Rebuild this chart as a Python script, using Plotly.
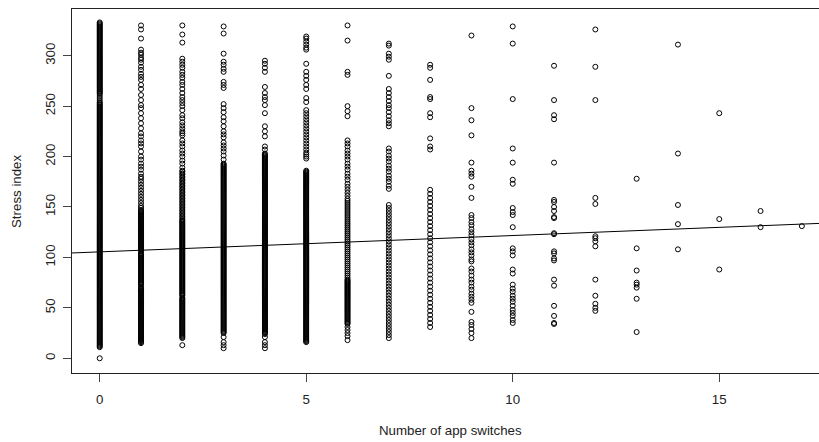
import plotly.graph_objects as go

# ---- data: stress index values observed at each number of app switches ----
switches = list(range(0, 18))

y_sw0 = [0,
         11, 12, 13, 14, 15, 16, 17, 18, 19, 20, 21, 22, 23, 24, 25, 26, 27, 28, 29, 30,
         31, 32, 33, 34, 35, 36, 37, 38, 39, 40, 41, 42, 43, 44, 45, 46, 47, 48, 49, 50,
         51, 52, 53, 54, 55, 56, 57, 58, 59, 60, 61, 62, 63, 64, 65, 66, 67, 68, 69, 70,
         71, 72, 73, 74, 75, 76, 77, 78, 79, 80, 81, 82, 83, 84, 85, 86, 87, 88, 89, 90,
         91, 92, 93, 94, 95, 96, 97, 98, 99, 100, 101, 102, 103, 104, 105, 106, 107, 108, 109, 110,
         111, 112, 113, 114, 115, 116, 117, 118, 119, 120, 121, 122, 123, 124, 125, 126, 127, 128, 129, 130,
         131, 132, 133, 134, 135, 136, 137, 138, 139, 140, 141, 142, 143, 144, 145, 146, 147, 148, 149, 150,
         151, 152, 153, 154, 155, 156, 157, 158, 159, 160, 161, 162, 163, 164, 165, 166, 167, 168, 169, 170,
         171, 172, 173, 174, 175, 176, 177, 178, 179, 180, 181, 182, 183, 184, 185, 186, 187, 188, 189, 190,
         191, 192, 193, 194, 195, 196, 197, 198, 199, 200, 201, 202, 203, 204, 205, 206, 207, 208, 209, 210,
         211, 212, 213, 214, 215, 216, 217, 218, 219, 220, 221, 222, 223, 224, 225, 226, 227, 228, 229, 230,
         231, 232, 233, 234, 235, 236, 237, 238, 239, 240, 241, 242, 243, 244, 245, 246, 247, 248, 249, 250,
         251, 252, 253, 254, 256, 258, 260, 262, 263, 264, 265, 266, 267, 268, 269, 270,
         271, 272, 273, 274, 275, 276, 277, 278, 279, 280, 281, 282, 283, 284, 285, 286, 287, 288, 289, 290,
         291, 292, 293, 294, 295, 296, 297, 298, 299, 300, 301, 302, 303, 304, 305, 306, 307, 308, 309, 310,
         311, 312, 313, 314, 315, 316, 317, 318, 319, 320, 321, 322, 323, 324, 325, 326, 327, 328, 329, 330,
         331, 332, 333]

y_sw1 = [15, 16, 17, 18, 19, 20, 21, 22, 23, 24, 25, 26, 27, 28, 29, 30, 31, 32, 33, 34, 35, 36, 37, 38,
         39, 40, 41, 42, 43, 44, 45, 46, 47, 48, 49, 50, 51, 52, 53, 54, 55, 56, 57, 58, 59, 60, 61, 62,
         63, 64, 65, 66, 67, 68, 69, 70, 71, 73, 74, 75, 76, 77, 78, 79, 80, 81, 82, 83, 84, 85, 86, 87,
         88, 89, 90, 91, 92, 93, 94, 95, 96, 97, 98, 99, 100, 101, 102, 103, 104, 106, 107, 108, 109, 110,
         111, 112, 113, 114, 115, 116, 117, 118, 119, 120, 121, 122, 123, 124, 125, 126, 127, 128, 129,
         130, 131, 132, 133, 134, 135, 136, 137, 138, 139, 140, 141, 142, 143, 144, 145, 146, 147,
         149, 151, 154, 157, 160, 163, 166, 169, 172, 175, 178, 180, 183, 187, 190, 193, 197, 200, 205, 210,
         213, 216, 220, 223, 228, 233, 238, 243, 248, 251, 256, 261, 267, 271, 276, 279, 282, 286, 289,
         293, 296, 298, 301, 303, 306, 317, 326, 330]

y_sw2 = [13, 20, 21, 22, 23, 24, 25, 26, 27, 28, 29, 30, 31, 32, 33, 34, 35, 36, 37, 38, 39, 40, 41, 42,
         43, 44, 45, 46, 47, 48, 49, 50, 51, 52, 53, 54, 55, 56, 57, 58, 59, 60, 62, 63, 64, 65, 66, 67,
         68, 69, 70, 71, 72, 73, 74, 75, 76, 77, 78, 79, 80, 81, 82, 83, 84, 85, 86, 87, 88, 89, 90, 91,
         92, 93, 94, 95, 96, 97, 98, 99, 100, 101, 102, 103, 104, 105, 106, 107, 108, 109, 110, 111, 112,
         113, 114, 115, 116, 117, 118, 119, 120, 121, 122, 123, 124, 125, 126, 127, 128, 129, 130, 131,
         132, 133, 134, 135, 136, 137, 138, 140, 141, 143, 144, 146, 147, 149, 150, 152, 153, 155, 156,
         158, 159, 161, 162, 164, 165, 167, 168, 170, 171, 173, 174, 176, 177, 179, 180, 182, 183, 185,
         186, 189, 193, 196, 200, 203, 206, 210, 213, 216, 221, 223, 225, 228, 231, 234, 238, 241, 246,
         250, 253, 256, 259, 263, 267, 271, 274, 278, 281, 284, 288, 291, 294, 297, 313, 321, 330]

y_sw3 = [10, 13, 16, 21, 25, 26, 27, 28, 29, 30, 31, 32, 33, 34, 35, 36, 37, 38, 39, 40, 41, 42, 43, 44,
         45, 46, 47, 48, 49, 50, 51, 52, 53, 54, 55, 56, 57, 58, 59, 60, 61, 62, 63, 64, 65, 66, 67, 68,
         69, 70, 71, 72, 73, 74, 75, 76, 77, 78, 79, 80, 81, 82, 83, 84, 85, 86, 87, 88, 89, 90, 91, 92,
         93, 94, 95, 96, 97, 98, 99, 100, 101, 102, 103, 104, 105, 106, 107, 108, 109, 110, 111, 112, 113,
         114, 115, 116, 117, 118, 119, 120, 121, 122, 123, 124, 125, 126, 127, 128, 129, 130, 131, 132,
         133, 134, 135, 136, 137, 138, 139, 140, 141, 142, 143, 144, 145, 146, 147, 148, 149, 150, 151,
         152, 153, 154, 155, 156, 157, 158, 159, 160, 161, 162, 163, 164, 165, 166, 167, 168, 169, 170,
         171, 172, 173, 174, 175, 176, 177, 178, 179, 180, 181, 182, 183, 184, 185, 186, 187, 188, 189,
         190, 191, 192, 193, 197, 201, 205, 208, 211, 214, 219, 222, 225, 230, 235, 239, 244, 248, 252,
         268, 271, 274, 284, 287, 291, 294, 302, 322, 329]

y_sw4 = [10, 13, 16, 21, 24, 25, 26, 27, 28, 29, 30, 31, 32, 33, 34, 35, 36, 37, 38, 39, 40, 41, 42, 43,
         44, 45, 46, 47, 48, 49, 50, 51, 52, 53, 54, 55, 56, 57, 58, 59, 60, 61, 62, 63, 64, 65, 66, 67,
         68, 69, 70, 71, 72, 73, 74, 75, 76, 77, 78, 79, 80, 81, 82, 83, 84, 85, 86, 87, 88, 89, 90, 91,
         92, 93, 94, 95, 96, 97, 98, 99, 100, 101, 102, 103, 104, 105, 106, 107, 108, 109, 110, 111, 112,
         113, 114, 115, 116, 117, 118, 119, 120, 121, 122, 123, 124, 125, 126, 127, 128, 129, 130, 131,
         132, 133, 134, 135, 136, 137, 138, 139, 140, 141, 142, 143, 144, 145, 146, 147, 148, 149, 150,
         151, 152, 153, 154, 155, 156, 157, 158, 159, 160, 161, 162, 163, 164, 165, 166, 167, 168, 169,
         170, 171, 172, 173, 174, 175, 176, 177, 178, 179, 180, 181, 182, 183, 184, 185, 186, 187, 188,
         189, 190, 191, 192, 193, 194, 195, 196, 197, 198, 199, 200, 201, 202, 203, 207, 210, 220, 225,
         230, 243, 251, 256, 259, 263, 269, 284, 288, 292, 295]

y_sw5 = [16, 17, 18, 19, 20, 21, 22, 23, 24, 25, 26, 27, 28, 29, 30, 31, 32, 33, 34, 35, 36, 37, 38, 39,
         40, 41, 42, 43, 44, 45, 46, 47, 48, 49, 50, 51, 52, 53, 54, 55, 56, 57, 58, 59, 60, 61, 62, 63,
         64, 65, 66, 67, 68, 69, 70, 71, 72, 73, 74, 75, 76, 77, 78, 79, 80, 81, 82, 83, 84, 85, 86, 87,
         88, 89, 90, 91, 92, 93, 94, 95, 96, 97, 98, 99, 100, 101, 102, 103, 104, 105, 106, 107, 108,
         109, 110, 111, 112, 113, 114, 115, 116, 117, 118, 119, 120, 121, 122, 123, 124, 125, 126, 127,
         128, 129, 130, 131, 132, 133, 134, 135, 136, 137, 138, 139, 140, 141, 142, 143, 144, 145, 146,
         147, 148, 149, 150, 151, 152, 153, 154, 155, 156, 157, 158, 159, 160, 161, 162, 163, 164, 165,
         166, 167, 168, 169, 170, 171, 172, 173, 174, 175, 176, 177, 178, 179, 180, 181, 182, 183, 184,
         185, 186, 198, 200, 202, 204, 207, 210, 213, 216, 219, 222, 225, 228, 231, 234, 237, 240, 243,
         246, 254, 258, 267, 271, 276, 280, 284, 292, 306, 308, 311, 314, 317, 319]

y_sw6 = [18, 22, 25, 28, 31, 34, 35, 36, 37, 38, 39, 40, 41, 42, 43, 44, 45, 46, 47, 48, 49, 50, 51, 52,
         53, 54, 55, 56, 57, 58, 59, 60, 61, 62, 63, 64, 65, 66, 67, 68, 69, 70, 71, 72, 73, 74, 75, 76,
         77, 78, 80, 82, 84, 86, 88, 90, 92, 94, 96, 98, 100, 102, 104, 106, 108, 110, 112, 114, 116, 118,
         120, 122, 124, 126, 128, 130, 132, 134, 136, 138, 140, 142, 144, 146, 148, 150, 152, 154, 156,
         158, 161, 164, 167, 170, 173, 177, 180, 183, 187, 190, 193, 197, 200, 203, 206, 210, 213, 216,
         240, 245, 250, 281, 284, 315, 330]

y_sw7 = [20, 23, 26, 29, 32, 35, 38, 41, 44, 47, 50, 53, 56, 59, 62, 65, 68, 71, 74, 77, 80, 83, 86, 89,
         92, 95, 98, 101, 104, 107, 110, 113, 116, 119, 122, 125, 128, 131, 134, 137, 140, 143, 146, 149,
         152, 168, 171, 175, 178, 181, 185, 188, 191, 195, 198, 201, 205, 208, 230, 233, 236, 240, 244,
         248, 251, 255, 259, 263, 267, 280, 296, 299, 302, 310, 312]

y_sw8 = [31, 35, 39, 43, 47, 51, 55, 59, 63, 67, 71, 75, 79, 83, 87, 91, 95, 99, 103, 107, 111, 115, 119,
         123, 127, 131, 135, 139, 143, 147, 151, 155, 159, 163, 167, 207, 210, 218, 239, 243, 257, 259,
         276, 288, 291]

y_sw9 = [20, 25, 29, 33, 36, 46, 55, 58, 61, 64, 68, 71, 75, 78, 82, 86, 89, 96, 98, 102, 105, 108, 112,
         115, 118, 122, 125, 128, 132, 135, 139, 142, 159, 170, 180, 183, 186, 194, 221, 236, 248, 320]

y_sw10 = [35, 38, 42, 45, 48, 52, 56, 59, 62, 66, 69, 73, 84, 88, 102, 106, 109, 130, 142, 145, 149, 173,
          177, 194, 208, 257, 312, 329]

y_sw11 = [34, 35, 42, 52, 72, 78, 97, 99, 104, 106, 123, 124, 139, 140, 146, 150, 155, 157, 194, 237,
          241, 256, 290]

y_sw12 = [47, 50, 54, 62, 78, 111, 116, 119, 121, 153, 159, 256, 289, 326]

y_sw13 = [26, 59, 70, 73, 75, 87, 109, 178]

y_sw14 = [108, 133, 152, 203, 311]

y_sw15 = [88, 138, 243]

y_sw16 = [130, 146]

y_sw17 = [131]

columns = [y_sw0, y_sw1, y_sw2, y_sw3, y_sw4, y_sw5, y_sw6, y_sw7, y_sw8, y_sw9,
           y_sw10, y_sw11, y_sw12, y_sw13, y_sw14, y_sw15, y_sw16, y_sw17]

# fitted linear regression (abline) coefficients
fit_intercept = 105.5
fit_slope = 1.62

x_ticks = [0, 5, 10, 15]
y_ticks = [0, 50, 100, 150, 200, 250, 300]
x_title = "Number of app switches"
y_title = "Stress index"

# ---- build ----
xs, ys = [], []
for sw, vals in zip(switches, columns):
    xs.extend([sw] * len(vals))
    ys.extend(vals)

x_range = [-0.671, 17.415]
y_range = [-14.6, 346.3]

fig = go.Figure()
fig.add_trace(go.Scatter(
    x=xs, y=ys, mode="markers",
    marker=dict(symbol="circle-open", size=5, color="black", line=dict(width=1, color="black")),
    hoverinfo="skip", cliponaxis=True,
))
fig.add_trace(go.Scatter(
    x=x_range, y=[fit_intercept + fit_slope * v for v in x_range], mode="lines",
    line=dict(color="black", width=1), hoverinfo="skip",
))

font = "Liberation Sans, Arial, sans-serif"
fig.update_layout(
    width=819, height=442,
    margin=dict(l=72, r=0, t=9, b=69),
    plot_bgcolor="white", paper_bgcolor="white",
    showlegend=False,
    font=dict(family=font, size=13.3, color="#222"),
    xaxis=dict(range=x_range, tickvals=x_ticks, ticktext=[str(v) for v in x_ticks],
               ticks="outside", ticklen=8, tickcolor="#444", tickwidth=1,
               showline=True, linecolor="#222", linewidth=1, mirror=True,
               showgrid=False, zeroline=False, ticklabelstandoff=6),
    yaxis=dict(range=y_range, tickvals=y_ticks, ticktext=[str(v) for v in y_ticks],
               ticks="outside", ticklen=8, tickcolor="#444", tickwidth=1, tickangle=-90,
               showline=True, linecolor="#222", linewidth=1, mirror=False,
               showgrid=False, zeroline=False, ticklabelstandoff=3),
    annotations=[
        dict(text=x_title, xref="paper", yref="paper", x=(450 - 72) / 747, y=(373 - 431) / 364,
             xanchor="center", yanchor="middle", showarrow=False, font=dict(size=13.3, color="#222")),
        dict(text=y_title, xref="paper", yref="paper", x=(16 - 72) / 747, y=0.5, textangle=-90,
             xanchor="center", yanchor="middle", showarrow=False, font=dict(size=13.3, color="#222")),
    ],
)

fig.write_html(
    "out.html",
    config={"displayModeBar": False, "staticPlot": True},
    post_script="document.body.style.margin='0';document.body.style.overflow='hidden';",
)
